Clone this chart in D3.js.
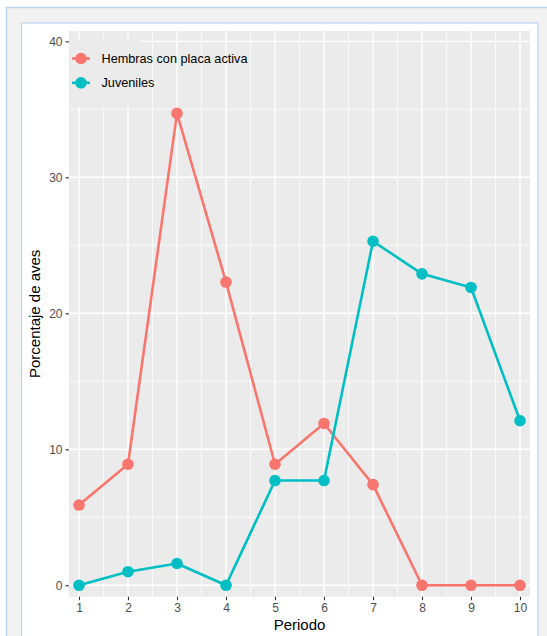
<!DOCTYPE html>
<html><head><meta charset="utf-8">
<script src="https://cdn.jsdelivr.net/npm/d3@7"></script>
<style>body{margin:0;background:#fff;}svg{display:block;font-family:"Liberation Sans",Arial,Helvetica,sans-serif;}</style>
</head><body>
<script>
const periods = [1,2,3,4,5,6,7,8,9,10];
const hembras = [5.9,8.9,34.7,22.3,8.9,11.9,7.4,0,0,0];
const juveniles = [0,1.0,1.6,0,7.7,7.7,25.3,22.9,21.9,12.1];
const seriesNames = ["Hembras con placa activa","Juveniles"];
const seriesColors = ["#F8766D","#00BFC4"];
const yTicks = [0,10,20,30,40];
const yMinor = [5,15,25,35];
const xMinor = [1.5,2.5,3.5,4.5,5.5,6.5,7.5,8.5,9.5];

const W=547,H=636;
const svg=d3.select("body").append("svg").attr("width",W).attr("height",H);

// frame
svg.append("rect").attr("x",6.5).attr("y",7.5).attr("width",560).attr("height",660).attr("fill","#f2f2f2").attr("stroke","#bcd5ee").attr("stroke-width",1.5);
svg.append("rect").attr("x",21.5).attr("y",23).attr("width",516.5).attr("height",640).attr("fill","#ffffff").attr("stroke","#bcd5ee").attr("stroke-width",1.2);

const pl=69,pr=530,pt=31,pb=596.7;
const x=d3.scaleLinear().domain([0.796,10.204]).range([pl,pr]);
const y=d3.scaleLinear().domain([-0.84,40.76]).range([pb,pt]);

svg.append("rect").attr("x",pl).attr("y",pt).attr("width",pr-pl).attr("height",pb-pt).attr("fill","#ebebeb");
const g=svg.append("g");
g.selectAll(".ymin").data(yMinor).join("line").attr("x1",pl).attr("x2",pr).attr("y1",d=>y(d)).attr("y2",d=>y(d)).attr("stroke","#fff").attr("stroke-width",0.7);
g.selectAll(".xmin").data(xMinor).join("line").attr("y1",pt).attr("y2",pb).attr("x1",d=>x(d)).attr("x2",d=>x(d)).attr("stroke","#fff").attr("stroke-width",0.7);
g.selectAll(".ymaj").data(yTicks).join("line").attr("x1",pl).attr("x2",pr).attr("y1",d=>y(d)).attr("y2",d=>y(d)).attr("stroke","#fff").attr("stroke-width",1.4);
g.selectAll(".xmaj").data(periods).join("line").attr("y1",pt).attr("y2",pb).attr("x1",d=>x(d)).attr("x2",d=>x(d)).attr("stroke","#fff").attr("stroke-width",1.4);

// axes
const yAxis=d3.axisLeft(y).tickValues(yTicks).tickSize(3.5).tickPadding(3);
const ya=svg.append("g").attr("transform",`translate(${pl},0)`).call(yAxis);
const xAxis=d3.axisBottom(x).tickValues(periods).tickSize(3.5).tickPadding(3);
const xa=svg.append("g").attr("transform",`translate(0,${pb})`).call(xAxis);
[ya,xa].forEach(a=>{a.select(".domain").remove();a.selectAll(".tick line").attr("stroke","#333333").attr("stroke-width",1.1);
 a.selectAll(".tick text").attr("fill","#4d4d4d").style("font-size","12px").style("font-family","'Liberation Sans',Arial,sans-serif");});

svg.append("text").attr("x",(pl+pr)/2).attr("y",630).attr("text-anchor","middle").style("font-size","15px").attr("fill","#000").text("Periodo");
svg.append("text").attr("transform",`translate(40,${(pt+pb)/2}) rotate(-90)`).attr("text-anchor","middle").style("font-size","15px").attr("fill","#000").text("Porcentaje de aves");

// legend background (drawn under the data)
const lg=svg.append("g");
lg.append("rect").attr("x",pl).attr("y",39).attr("width",71).attr("height",68).attr("fill","#ebebeb");

// data
const data=[hembras,juveniles];
const line=d3.line().x((d,i)=>x(periods[i])).y(d=>y(d));
data.forEach((s,k)=>{
  svg.append("path").datum(s).attr("d",line).attr("fill","none").attr("stroke",seriesColors[k]).attr("stroke-width",2.6).attr("stroke-linejoin","round");
});
data.forEach((s,k)=>{
  svg.append("g").selectAll("circle").data(s).join("circle").attr("cx",(d,i)=>x(periods[i])).attr("cy",d=>y(d)).attr("r",5.8).attr("fill",seriesColors[k]);
});

seriesNames.forEach((n,k)=>{
  const cy=58.5+k*24.3;
  lg.append("line").attr("x1",72).attr("x2",90).attr("y1",cy).attr("y2",cy).attr("stroke",seriesColors[k]).attr("stroke-width",2.6);
  lg.append("circle").attr("cx",81).attr("cy",cy).attr("r",5.8).attr("fill",seriesColors[k]);
  lg.append("text").attr("x",101.5).attr("y",cy).attr("dy","0.36em").style("font-size","12.7px").attr("fill","#000").text(n);
});
</script>
</body></html>
